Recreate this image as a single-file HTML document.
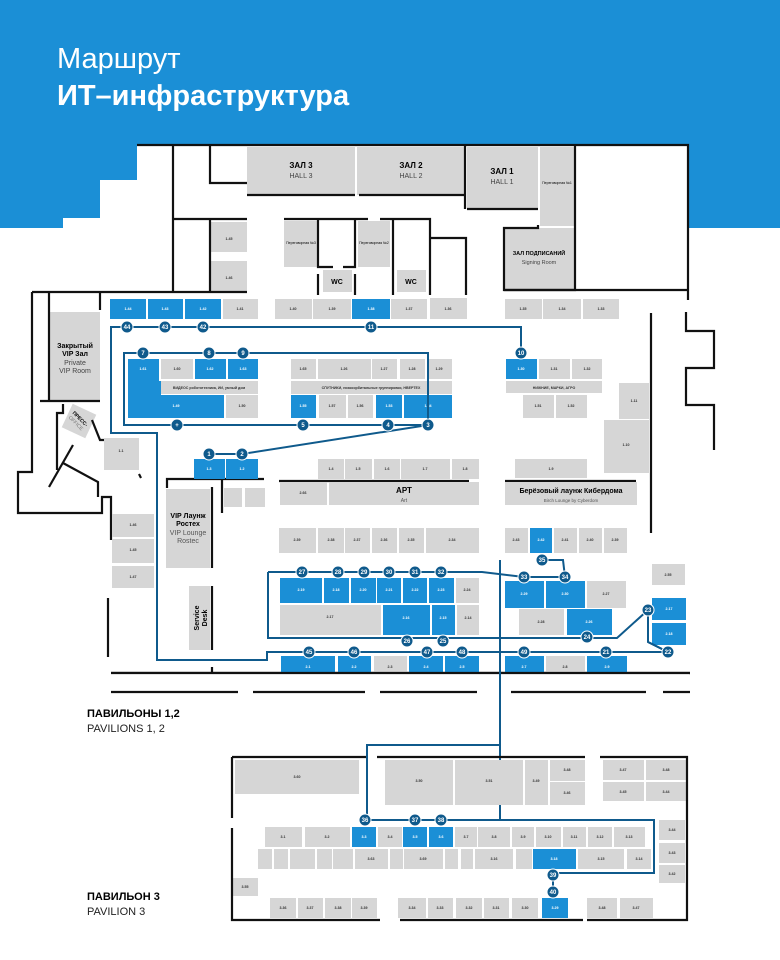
<!DOCTYPE html>
<html><head><meta charset="utf-8"><style>
html,body{margin:0;padding:0;background:#fff;}
svg{display:block;font-family:"Liberation Sans","Noto Sans CJK SC",sans-serif;}
.g{fill:#d6d6d6}.b{fill:#1b8fd6}
.w{fill:none;stroke:#111;stroke-width:2.2}
.r{fill:none;stroke:#0f5a8c;stroke-width:2}
.t{font-size:3.6px;fill:#333;text-anchor:middle;font-weight:bold}
.tw{font-size:3.6px;fill:#fff;text-anchor:middle;font-weight:bold}
.n circle{fill:#0f5a8c;stroke:#fff;stroke-width:1}
.n text{fill:#fff;font-size:6px;font-weight:bold;text-anchor:middle}
</style></head><body>
<svg width="780" height="960" viewBox="0 0 780 960" xmlns="http://www.w3.org/2000/svg">
<rect x="0" y="0" width="780" height="228" fill="#1b8fd6"/>
<polygon points="63,228 63,218 100,218 100,180 137,180 137,145 688,145 688,290 32,292 32,228" fill="#fff"/>
<rect x="0" y="228" width="780" height="732" fill="#fff"/>
<rect x="63" y="218" width="625" height="12" fill="#fff"/>
<text x="57" y="68" font-size="29" fill="#fff" font-weight="300">Маршрут</text>
<text x="57" y="105" font-size="29" fill="#fff" font-weight="bold">ИТ–инфраструктура</text>

<!-- halls -->
<rect class="g" x="247" y="147" width="108" height="48"/>
<rect class="g" x="357" y="147" width="108" height="48"/>
<rect class="g" x="467" y="147" width="71" height="62"/>
<rect class="g" x="540" y="147" width="34" height="79"/>
<rect class="g" x="505" y="228" width="69" height="61"/>
<rect class="g" x="284" y="221" width="34" height="46"/>
<rect class="g" x="358" y="221" width="32" height="46"/>
<rect class="g" x="323" y="270" width="29" height="22"/>
<rect class="g" x="397" y="270" width="29" height="22"/>
<rect class="g" x="211" y="222" width="36" height="30"/>
<rect class="g" x="211" y="261" width="36" height="31"/>
<rect class="g" x="49" y="312" width="51" height="89"/>
<rect class="g" x="66" y="408" width="26" height="26" transform="rotate(25 79 421)"/>
<text x="301" y="168" font-size="8" font-weight="bold" text-anchor="middle">ЗАЛ 3</text>
<text x="301" y="178" font-size="7" text-anchor="middle" fill="#444">HALL 3</text>
<text x="411" y="168" font-size="8" font-weight="bold" text-anchor="middle">ЗАЛ 2</text>
<text x="411" y="178" font-size="7" text-anchor="middle" fill="#444">HALL 2</text>
<text x="502" y="174" font-size="8" font-weight="bold" text-anchor="middle">ЗАЛ 1</text>
<text x="502" y="184" font-size="7" text-anchor="middle" fill="#444">HALL 1</text>
<text x="557" y="184" font-size="3.5" text-anchor="middle">Переговорная №1</text>
<text x="539" y="255" font-size="5.5" font-weight="bold" text-anchor="middle">ЗАЛ ПОДПИСАНИЙ</text>
<text x="539" y="264" font-size="5.5" text-anchor="middle" fill="#444">Signing Room</text>
<text x="301" y="244" font-size="3.5" text-anchor="middle">Переговорная №3</text>
<text x="374" y="244" font-size="3.5" text-anchor="middle">Переговорная №2</text>
<text x="337" y="284" font-size="7" font-weight="bold" text-anchor="middle">WC</text>
<text x="411" y="284" font-size="7" font-weight="bold" text-anchor="middle">WC</text>
<text x="229" y="240" class="t">1.45</text><text x="229" y="279" class="t">1.46</text>
<text x="75" y="348" font-size="7" font-weight="bold" text-anchor="middle">Закрытый</text>
<text x="75" y="356" font-size="7" font-weight="bold" text-anchor="middle">VIP Зал</text>
<text x="75" y="365" font-size="7" text-anchor="middle" fill="#444">Private</text>
<text x="75" y="373" font-size="7" text-anchor="middle" fill="#444">VIP Room</text>
<text x="79" y="420" font-size="5" font-weight="bold" text-anchor="middle" transform="rotate(45 79 420)">ПРЕСС-</text>
<text x="79" y="426" font-size="5" text-anchor="middle" fill="#777" transform="rotate(45 79 420)">OFFICE</text>

<!-- walls pav 1,2 -->
<polyline class="w" points="137,145 688,145 688,300"/>
<polyline class="w" points="173,145 173,292"/>
<polyline class="w" points="210,145 210,183 247,183"/>
<polyline class="w" points="173,219 247,219"/>
<polyline class="w" points="210,219 210,292"/>
<polyline class="w" points="32,292 247,292"/>
<polyline class="w" points="247,195 355,195"/>
<polyline class="w" points="359,195 465,195"/>
<polyline class="w" points="467,209 538,209"/>
<polyline class="w" points="465,145 465,209"/>
<polyline class="w" points="575,145 575,290 504,290 504,228 538,228 538,225"/>
<polyline class="w" points="504,290 688,290"/>
<polyline class="w" points="284,219 368,219"/>
<polyline class="w" points="380,219 430,219 430,295"/>
<polyline class="w" points="318,219 318,267 333,267"/>
<polyline class="w" points="343,267 355,267 355,219"/>
<polyline class="w" points="318,274 318,295"/>
<polyline class="w" points="355,274 355,295"/>
<polyline class="w" points="393,219 393,295"/>
<polyline class="w" points="430,238 466,238 466,295"/>
<polyline class="w" points="32,292 32,472 18,472 18,513 102,513 102,497 111,497 111,540 Q111,552 88,565 L88,598 129,598 129,657 88,657 88,692 240,692"/>
<polyline class="w" points="108,598 108,657"/>
<polyline class="w" points="49,292 49,401"/>
<polyline class="w" points="40,401 100,401"/>
<polyline class="w" points="100,292 100,310"/>
<polyline class="w" points="63,404 63,413 57,413 57,470"/>
<polyline class="w" points="73,445 49,487"/>
<polyline class="w" points="63,463 98,482 98,497"/>
<polyline class="w" points="92,420 100,440 106,440"/>
<polyline class="w" points="139,474 141,478"/>
<polyline class="w" points="167,488 167,479 264,479"/>
<polyline class="w" points="212,487 212,568"/>
<polyline class="w" points="212,586 212,650"/>
<polyline class="w" points="222,479 222,513"/>
<polyline class="w" points="279,481 469,481"/>
<polyline class="w" points="505,481 636,481"/>
<polyline class="w" points="686,312 686,331 714,331 714,368 686,368 686,405 714,405 714,450"/>
<polyline class="w" points="651,313 651,533 Q653,550 672,552 Q686,556 686,570 L686,692"/>
<polyline class="w" points="111,673 690,673"/>
<polyline class="w" points="212,667 212,673"/>
<g class="w"><line x1="111" y1="692" x2="238" y2="692"/><line x1="253" y1="692" x2="365" y2="692"/><line x1="380" y1="692" x2="477" y2="692"/><line x1="511" y1="692" x2="646" y2="692"/><line x1="663" y1="692" x2="690" y2="692"/></g>

<!-- row 1.44 ... -->
<rect class="b" x="110" y="299" width="36" height="20"/><text class="tw" x="128" y="310">1.44</text>
<rect class="b" x="148" y="299" width="35" height="20"/><text class="tw" x="165" y="310">1.43</text>
<rect class="b" x="185" y="299" width="36" height="20"/><text class="tw" x="203" y="310">1.42</text>
<rect class="g" x="223" y="299" width="35" height="20"/><text class="t" x="240" y="310">1.41</text>
<rect class="g" x="275" y="299" width="37" height="20"/><text class="t" x="293" y="310">1.40</text>
<rect class="g" x="313" y="299" width="38" height="20"/><text class="t" x="332" y="310">1.39</text>
<rect class="b" x="352" y="299" width="38" height="20"/><text class="tw" x="371" y="310">1.38</text>
<rect class="g" x="391" y="299" width="36" height="20"/><text class="t" x="409" y="310">1.37</text>
<rect class="g" x="430" y="298" width="37" height="21"/><text class="t" x="448" y="310">1.36</text>
<rect class="g" x="505" y="299" width="37" height="20"/><text class="t" x="523" y="310">1.35</text>
<rect class="g" x="543" y="299" width="38" height="20"/><text class="t" x="562" y="310">1.34</text>
<rect class="g" x="583" y="299" width="36" height="20"/><text class="t" x="601" y="310">1.33</text>

<!-- inner blocks 1 -->
<rect class="b" x="128" y="359" width="31" height="22"/>
<rect class="b" x="128" y="381" width="33" height="14"/>
<rect class="g" x="161" y="359" width="32" height="20"/>
<rect class="b" x="195" y="359" width="31" height="20"/>
<rect class="b" x="228" y="359" width="30" height="20"/>
<rect class="g" x="161" y="381" width="97" height="13"/>
<rect class="b" x="128" y="395" width="96" height="23"/>
<rect class="g" x="226" y="395" width="32" height="23"/>
<text class="tw" x="143" y="370">1.61</text><text class="t" x="177" y="370">1.60</text><text class="tw" x="210" y="370">1.62</text><text class="tw" x="243" y="370">1.63</text>
<text class="t" x="209" y="389">ВИДЕОС робототехника, ИИ, умный дом</text>
<text class="tw" x="176" y="407">1.49</text><text class="t" x="242" y="407">1.50</text>
<rect class="g" x="291" y="359" width="25" height="20"/>
<rect class="g" x="318" y="359" width="53" height="20"/>
<rect class="g" x="372" y="359" width="25" height="20"/>
<rect class="g" x="400" y="359" width="25" height="20"/>
<rect class="g" x="427" y="359" width="25" height="20"/>
<rect class="g" x="291" y="381" width="161" height="13"/>
<rect class="b" x="291" y="395" width="25" height="23"/>
<rect class="g" x="319" y="395" width="27" height="23"/>
<rect class="g" x="348" y="395" width="25" height="23"/>
<rect class="b" x="376" y="395" width="26" height="23"/>
<rect class="b" x="404" y="395" width="48" height="23"/>
<text class="t" x="303" y="370">1.65</text><text class="t" x="344" y="370">1.26</text><text class="t" x="384" y="370">1.27</text><text class="t" x="412" y="370">1.28</text><text class="t" x="439" y="370">1.29</text>
<text class="t" x="371" y="389">СПУТНИКИ, низкоорбитальные группировки, НВЕРТЕХ</text>
<text class="tw" x="303" y="407">1.55</text><text class="t" x="332" y="407">1.57</text><text class="t" x="360" y="407">1.56</text><text class="tw" x="389" y="407">1.53</text><text class="tw" x="428" y="407">1.54</text>
<rect class="b" x="506" y="359" width="31" height="20"/>
<rect class="g" x="539" y="359" width="31" height="20"/>
<rect class="g" x="572" y="359" width="30" height="20"/>
<rect class="g" x="506" y="381" width="96" height="12"/>
<rect class="g" x="523" y="395" width="31" height="23"/>
<rect class="g" x="556" y="395" width="31" height="23"/>
<text class="tw" x="521" y="370">1.30</text><text class="t" x="554" y="370">1.31</text><text class="t" x="587" y="370">1.32</text>
<text class="t" x="554" y="389">НИЖНИЕ, МАРКИ, АГРО</text>
<text class="t" x="538" y="407">1.51</text><text class="t" x="571" y="407">1.52</text>
<rect class="g" x="619" y="383" width="30" height="36"/>
<rect class="g" x="604" y="420" width="45" height="53"/>
<text class="t" x="634" y="402">1.11</text><text class="t" x="626" y="446">1.10</text>

<!-- left small -->
<rect class="g" x="104" y="438" width="35" height="32"/><text class="t" x="121" y="452">1.1</text>
<rect class="g" x="112" y="514" width="42" height="23"/><text class="t" x="133" y="526">1.46</text>
<rect class="g" x="112" y="539" width="42" height="24"/><text class="t" x="133" y="551">1.45</text>
<rect class="g" x="112" y="566" width="42" height="22"/><text class="t" x="133" y="578">1.47</text>

<!-- 1.x row -->
<rect class="b" x="194" y="459" width="31" height="20"/><text class="tw" x="209" y="470">1.3</text>
<rect class="b" x="226" y="459" width="32" height="20"/><text class="tw" x="242" y="470">1.2</text>
<rect class="g" x="318" y="459" width="26" height="20"/><text class="t" x="331" y="470">1.4</text>
<rect class="g" x="345" y="459" width="27" height="20"/><text class="t" x="358" y="470">1.5</text>
<rect class="g" x="374" y="459" width="26" height="20"/><text class="t" x="387" y="470">1.6</text>
<rect class="g" x="401" y="459" width="49" height="20"/><text class="t" x="425" y="470">1.7</text>
<rect class="g" x="452" y="459" width="27" height="20"/><text class="t" x="465" y="470">1.8</text>
<rect class="g" x="515" y="459" width="72" height="19"/><text class="t" x="551" y="470">1.9</text>
<rect class="g" x="224" y="488" width="18" height="19"/><rect class="g" x="245" y="488" width="20" height="19"/>
<rect class="g" x="280" y="482" width="47" height="23"/><text class="t" x="303" y="494">2.66</text>
<rect class="g" x="329" y="482" width="150" height="23"/>
<text x="404" y="493" font-size="8" font-weight="bold" text-anchor="middle">АРТ</text>
<text x="404" y="502" font-size="5" text-anchor="middle" fill="#555">Art</text>
<rect class="g" x="505" y="482" width="132" height="23"/>
<text x="571" y="493" font-size="7" font-weight="bold" text-anchor="middle">Берёзовый лаунж Кибердома</text>
<text x="571" y="502" font-size="4.5" text-anchor="middle" fill="#555">Birch Lounge by Cyberdom</text>
<rect class="g" x="166" y="489" width="44" height="79"/>
<text x="188" y="518" font-size="7" font-weight="bold" text-anchor="middle">VIP Лаунж</text>
<text x="188" y="526" font-size="7" font-weight="bold" text-anchor="middle">Ростех</text>
<text x="188" y="535" font-size="7" text-anchor="middle" fill="#555">VIP Lounge</text>
<text x="188" y="543" font-size="7" text-anchor="middle" fill="#555">Rostec</text>
<rect class="g" x="189" y="586" width="21" height="64"/>
<text x="0" y="0" font-size="7" font-weight="bold" text-anchor="middle" transform="translate(199 618) rotate(-90)">Service</text>
<text x="0" y="0" font-size="7" font-weight="bold" text-anchor="middle" transform="translate(207 618) rotate(-90)">Desk</text>

<!-- 2.xx row -->
<rect class="g" x="279" y="528" width="37" height="25"/><text class="t" x="297" y="541">2.39</text>
<rect class="g" x="318" y="528" width="26" height="25"/><text class="t" x="331" y="541">2.38</text>
<rect class="g" x="345" y="528" width="25" height="25"/><text class="t" x="357" y="541">2.37</text>
<rect class="g" x="372" y="528" width="25" height="25"/><text class="t" x="384" y="541">2.36</text>
<rect class="g" x="399" y="528" width="25" height="25"/><text class="t" x="411" y="541">2.35</text>
<rect class="g" x="426" y="528" width="53" height="25"/><text class="t" x="452" y="541">2.34</text>
<rect class="g" x="505" y="528" width="23" height="25"/><text class="t" x="516" y="541">2.43</text>
<rect class="b" x="530" y="528" width="22" height="25"/><text class="tw" x="541" y="541">2.42</text>
<rect class="g" x="554" y="528" width="23" height="25"/><text class="t" x="565" y="541">2.41</text>
<rect class="g" x="579" y="528" width="23" height="25"/><text class="t" x="590" y="541">2.40</text>
<rect class="g" x="604" y="528" width="23" height="25"/><text class="t" x="615" y="541">2.39</text>
<rect class="g" x="652" y="564" width="33" height="21"/><text class="t" x="668" y="576">2.55</text>

<!-- middle loop blocks -->
<rect class="b" x="280" y="578" width="42" height="25"/><text class="tw" x="301" y="591">2.19</text>
<rect class="b" x="324" y="578" width="25" height="25"/><text class="tw" x="336" y="591">2.18</text>
<rect class="b" x="351" y="578" width="25" height="25"/><text class="tw" x="363" y="591">2.20</text>
<rect class="b" x="377" y="578" width="24" height="25"/><text class="tw" x="389" y="591">2.21</text>
<rect class="b" x="403" y="578" width="24" height="25"/><text class="tw" x="415" y="591">2.22</text>
<rect class="b" x="429" y="578" width="25" height="25"/><text class="tw" x="441" y="591">2.23</text>
<rect class="g" x="456" y="578" width="23" height="25"/><text class="t" x="467" y="591">2.24</text>
<rect class="g" x="280" y="605" width="101" height="30"/><text class="t" x="330" y="618">2.17</text>
<rect class="b" x="383" y="605" width="47" height="30"/><text class="tw" x="406" y="619">2.16</text>
<rect class="b" x="432" y="605" width="23" height="30"/><text class="tw" x="443" y="619">2.15</text>
<rect class="g" x="457" y="605" width="22" height="30"/><text class="t" x="468" y="619">2.14</text>
<rect class="b" x="505" y="581" width="39" height="27"/><text class="tw" x="524" y="595">2.29</text>
<rect class="b" x="546" y="581" width="39" height="27"/><text class="tw" x="565" y="595">2.30</text>
<rect class="g" x="587" y="581" width="39" height="27"/><text class="t" x="606" y="595">2.27</text>
<rect class="g" x="519" y="609" width="45" height="26"/><text class="t" x="541" y="623">2.28</text>
<rect class="b" x="567" y="609" width="45" height="26"/><text class="tw" x="589" y="623">2.26</text>
<rect class="b" x="652" y="598" width="34" height="22"/><text class="tw" x="669" y="610">2.17</text>
<rect class="b" x="652" y="623" width="34" height="22"/><text class="tw" x="669" y="635">2.18</text>

<!-- bottom row -->
<rect class="b" x="281" y="656" width="54" height="24"/><text class="tw" x="308" y="668">2.1</text>
<rect class="b" x="338" y="656" width="33" height="24"/><text class="tw" x="354" y="668">2.2</text>
<rect class="g" x="374" y="656" width="33" height="24"/><text class="t" x="390" y="668">2.3</text>
<rect class="b" x="409" y="656" width="34" height="24"/><text class="tw" x="426" y="668">2.4</text>
<rect class="b" x="445" y="656" width="34" height="24"/><text class="tw" x="462" y="668">2.5</text>
<rect class="b" x="505" y="656" width="39" height="24"/><text class="tw" x="524" y="668">2.7</text>
<rect class="g" x="546" y="656" width="39" height="24"/><text class="t" x="565" y="668">2.8</text>
<rect class="b" x="587" y="656" width="40" height="24"/><text class="tw" x="607" y="668">2.9</text>
<rect x="111" y="674" width="578" height="6" fill="#fff"/>
<polyline class="w" points="111,673 690,673"/>

<!-- routes pav 1,2 -->
<polyline class="r" points="521,353 521,327 111,327 111,433 157,433 157,660 267,660 267,652 668,652"/>
<polyline class="r" points="124,353 428,353"/>
<rect class="r" x="124" y="353" width="304" height="72"/>
<polyline class="r" points="428,425 242,454 209,454"/>
<polyline class="r" points="268,572 482,572 524,577 565,577 563,560 542,560"/>
<polyline class="r" points="500,560 500,820"/>
<polyline class="r" points="268,572 268,638 617,638 648,610 648,642 668,652"/>
<polyline class="r" points="648,642 668,652 668,652"/>

<g class="n">
<circle cx="127" cy="327" r="6"/><text x="127" y="329">44</text>
<circle cx="165" cy="327" r="6"/><text x="165" y="329">43</text>
<circle cx="203" cy="327" r="6"/><text x="203" y="329">42</text>
<circle cx="371" cy="327" r="6"/><text x="371" y="329">11</text>
<circle cx="521" cy="353" r="6"/><text x="521" y="355">10</text>
<circle cx="143" cy="353" r="6"/><text x="143" y="355">7</text>
<circle cx="209" cy="353" r="6"/><text x="209" y="355">8</text>
<circle cx="243" cy="353" r="6"/><text x="243" y="355">9</text>
<circle cx="177" cy="425" r="6"/><text x="177" y="427">+</text>
<circle cx="303" cy="425" r="6"/><text x="303" y="427">5</text>
<circle cx="388" cy="425" r="6"/><text x="388" y="427">4</text>
<circle cx="428" cy="425" r="6"/><text x="428" y="427">3</text>
<circle cx="209" cy="454" r="6"/><text x="209" y="456">1</text>
<circle cx="242" cy="454" r="6"/><text x="242" y="456">2</text>
<circle cx="302" cy="572" r="6"/><text x="302" y="574">27</text>
<circle cx="338" cy="572" r="6"/><text x="338" y="574">28</text>
<circle cx="364" cy="572" r="6"/><text x="364" y="574">29</text>
<circle cx="389" cy="572" r="6"/><text x="389" y="574">30</text>
<circle cx="415" cy="572" r="6"/><text x="415" y="574">31</text>
<circle cx="441" cy="572" r="6"/><text x="441" y="574">32</text>
<circle cx="524" cy="577" r="6"/><text x="524" y="579">33</text>
<circle cx="565" cy="577" r="6"/><text x="565" y="579">34</text>
<circle cx="542" cy="560" r="6"/><text x="542" y="562">35</text>
<circle cx="407" cy="641" r="6"/><text x="407" y="643">26</text>
<circle cx="443" cy="641" r="6"/><text x="443" y="643">25</text>
<circle cx="587" cy="637" r="6"/><text x="587" y="639">24</text>
<circle cx="648" cy="610" r="6"/><text x="648" y="612">23</text>
<circle cx="668" cy="652" r="6"/><text x="668" y="654">22</text>
<circle cx="309" cy="652" r="6"/><text x="309" y="654">45</text>
<circle cx="354" cy="652" r="6"/><text x="354" y="654">46</text>
<circle cx="427" cy="652" r="6"/><text x="427" y="654">47</text>
<circle cx="462" cy="652" r="6"/><text x="462" y="654">48</text>
<circle cx="524" cy="652" r="6"/><text x="524" y="654">49</text>
<circle cx="606" cy="652" r="6"/><text x="606" y="654">21</text>
</g>

<text x="87" y="717" font-size="11" font-weight="bold">ПАВИЛЬОНЫ 1,2</text>
<text x="87" y="732" font-size="11" fill="#222">PAVILIONS 1, 2</text>
<text x="87" y="900" font-size="11" font-weight="bold">ПАВИЛЬОН 3</text>
<text x="87" y="915" font-size="11" fill="#222">PAVILION 3</text>

<!-- pavilion 3 -->
<rect class="g" x="235" y="760" width="124" height="34"/><text class="t" x="297" y="778">3.60</text>
<rect class="g" x="385" y="760" width="68" height="45"/><text class="t" x="419" y="782">3.50</text>
<rect class="g" x="455" y="760" width="68" height="45"/><text class="t" x="489" y="782">3.51</text>
<rect class="g" x="525" y="760" width="23" height="45"/><text class="t" x="536" y="782">3.49</text>
<rect class="g" x="550" y="760" width="35" height="21"/><text class="t" x="567" y="771">3.48</text>
<rect class="g" x="550" y="782" width="35" height="23"/><text class="t" x="567" y="794">3.46</text>
<rect class="g" x="603" y="760" width="41" height="20"/><text class="t" x="623" y="771">3.47</text>
<rect class="g" x="646" y="760" width="40" height="20"/><text class="t" x="666" y="771">3.48</text>
<rect class="g" x="603" y="782" width="41" height="19"/><text class="t" x="623" y="793">3.45</text>
<rect class="g" x="646" y="782" width="40" height="19"/><text class="t" x="666" y="793">3.44</text>

<rect class="g" x="265" y="827" width="37" height="20"/><text class="t" x="283" y="838">3.1</text>
<rect class="g" x="305" y="827" width="45" height="20"/><text class="t" x="327" y="838">3.2</text>
<rect class="b" x="352" y="827" width="24" height="20"/><text class="tw" x="364" y="838">3.3</text>
<rect class="g" x="378" y="827" width="24" height="20"/><text class="t" x="390" y="838">3.4</text>
<rect class="b" x="403" y="827" width="24" height="20"/><text class="tw" x="415" y="838">3.5</text>
<rect class="b" x="429" y="827" width="24" height="20"/><text class="tw" x="441" y="838">3.6</text>
<rect class="g" x="455" y="827" width="22" height="20"/><text class="t" x="466" y="838">3.7</text>
<rect class="g" x="478" y="827" width="32" height="20"/><text class="t" x="494" y="838">3.8</text>
<rect class="g" x="512" y="827" width="22" height="20"/><text class="t" x="523" y="838">3.9</text>
<rect class="g" x="536" y="827" width="25" height="20"/><text class="t" x="548" y="838">3.10</text>
<rect class="g" x="563" y="827" width="23" height="20"/><text class="t" x="574" y="838">3.11</text>
<rect class="g" x="588" y="827" width="24" height="20"/><text class="t" x="600" y="838">3.12</text>
<rect class="g" x="614" y="827" width="31" height="20"/><text class="t" x="629" y="838">3.13</text>

<rect class="g" x="258" y="849" width="14" height="20"/>
<rect class="g" x="274" y="849" width="14" height="20"/>
<rect class="g" x="290" y="849" width="25" height="20"/>
<rect class="g" x="317" y="849" width="15" height="20"/>
<rect class="g" x="333" y="849" width="20" height="20"/>
<rect class="g" x="355" y="849" width="33" height="20"/><text class="t" x="371" y="860">3.63</text>
<rect class="g" x="390" y="849" width="13" height="20"/>
<rect class="g" x="404" y="849" width="39" height="20"/><text class="t" x="423" y="860">3.69</text>
<rect class="g" x="445" y="849" width="13" height="20"/>
<rect class="g" x="461" y="849" width="12" height="20"/>
<rect class="g" x="475" y="849" width="38" height="20"/><text class="t" x="494" y="860">3.16</text>
<rect class="g" x="516" y="849" width="16" height="20"/>
<rect class="b" x="533" y="849" width="43" height="20"/><text class="tw" x="554" y="860">3.18</text>
<rect class="g" x="578" y="849" width="46" height="20"/><text class="t" x="601" y="860">3.15</text>
<rect class="g" x="627" y="849" width="24" height="20"/><text class="t" x="639" y="860">3.14</text>
<rect class="g" x="659" y="820" width="26" height="20"/><text class="t" x="672" y="831">3.44</text>
<rect class="g" x="659" y="843" width="26" height="20"/><text class="t" x="672" y="854">3.43</text>
<rect class="g" x="659" y="865" width="26" height="18"/><text class="t" x="672" y="875">3.42</text>
<rect class="g" x="233" y="878" width="25" height="18"/><text class="t" x="245" y="888">3.55</text>

<rect class="g" x="270" y="898" width="26" height="20"/><text class="t" x="283" y="909">3.36</text>
<rect class="g" x="298" y="898" width="25" height="20"/><text class="t" x="310" y="909">3.37</text>
<rect class="g" x="325" y="898" width="26" height="20"/><text class="t" x="338" y="909">3.38</text>
<rect class="g" x="352" y="898" width="25" height="20"/><text class="t" x="364" y="909">3.39</text>
<rect class="g" x="398" y="898" width="28" height="20"/><text class="t" x="412" y="909">3.34</text>
<rect class="g" x="428" y="898" width="25" height="20"/><text class="t" x="440" y="909">3.33</text>
<rect class="g" x="456" y="898" width="26" height="20"/><text class="t" x="469" y="909">3.32</text>
<rect class="g" x="484" y="898" width="25" height="20"/><text class="t" x="496" y="909">3.31</text>
<rect class="g" x="512" y="898" width="26" height="20"/><text class="t" x="525" y="909">3.30</text>
<rect class="b" x="542" y="898" width="26" height="20"/><text class="tw" x="555" y="909">3.29</text>
<rect class="g" x="587" y="898" width="30" height="20"/><text class="t" x="602" y="909">3.48</text>
<rect class="g" x="620" y="898" width="33" height="20"/><text class="t" x="636" y="909">3.47</text>

<polyline class="w" points="232,757 367,757"/>
<polyline class="w" points="377,757 585,757"/>
<polyline class="w" points="600,757 687,757 687,920 587,920"/>
<polyline class="w" points="232,757 232,818"/>
<polyline class="w" points="232,828 232,920 380,920"/>
<polyline class="w" points="400,920 583,920"/>

<polyline class="r" points="500,700 500,745 367,745 367,820 654,820 654,873 553,873 553,892"/>
<g class="n">
<circle cx="365" cy="820" r="6"/><text x="365" y="822">36</text>
<circle cx="415" cy="820" r="6"/><text x="415" y="822">37</text>
<circle cx="441" cy="820" r="6"/><text x="441" y="822">38</text>
<circle cx="553" cy="875" r="6"/><text x="553" y="877">39</text>
<circle cx="553" cy="892" r="6"/><text x="553" y="894">40</text>
</g>
</svg>
</body></html>
